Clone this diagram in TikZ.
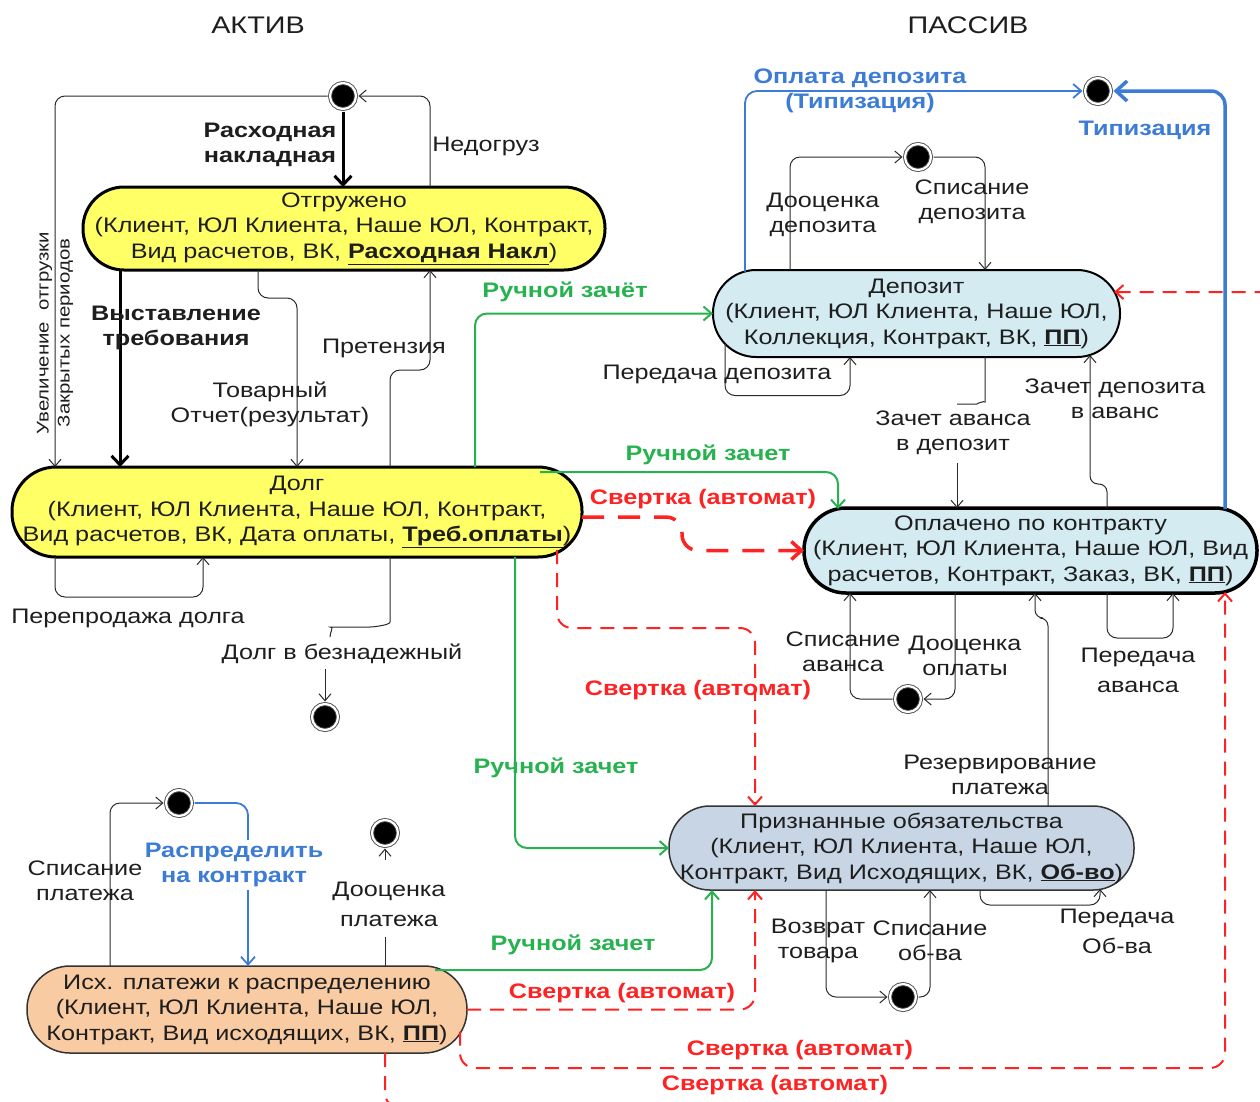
\documentclass[tikz,border=0pt]{standalone}
\usepackage{fontspec}
\setmainfont{Liberation Sans}[FakeStretch=1.2]
\usetikzlibrary{arrows.meta,calc}

\definecolor{txt}{HTML}{1E1E1E}
\definecolor{lnc}{HTML}{2A2A2A}
\definecolor{stYellow}{HTML}{FFFF66}
\definecolor{stBlue}{HTML}{D3EBF1}
\definecolor{stGrey}{HTML}{C7D5E5}
\definecolor{stPeach}{HTML}{F9CBA2}
\definecolor{grn}{HTML}{27B24F}
\definecolor{rdc}{HTML}{FF2222}
\definecolor{blc}{HTML}{3C7BD6}

\begin{document}
\begin{tikzpicture}[x=1pt,y=-1pt,
  every node/.style={inner sep=0pt, outer sep=0pt},
  st/.style={draw=black, line width=3pt, align=center, text=txt,
    font=\fontsize{21}{25.5}\selectfont},
  lab/.style={align=center, text=txt, font=\fontsize{21}{25}\selectfont},
  labw/.style={align=center, text=txt, font=\fontsize{21}{30}\selectfont},
  labb/.style={align=center, text=txt, font=\fontsize{21}{25}\selectfont\bfseries},
  glab/.style={text=grn, font=\fontsize{21}{25}\selectfont\bfseries},
  rlab/.style={text=rdc, font=\fontsize{21}{25}\selectfont\bfseries},
  blab/.style={align=center, text=blc, font=\fontsize{21}{25}\selectfont\bfseries},
  endpt/.style={circle, fill=black, draw=black!70, line width=0.9pt,
    double=white, double distance=2.2pt, minimum size=26pt, outer sep=2.5pt},
  ln/.style={draw=lnc, line width=1pt, rounded corners=10pt},
  thn/.style={ln, -{Straight Barb[length=7pt,width=12pt]}},
  thk/.style={draw=black, line width=3pt, -{Straight Barb[length=9pt,width=17pt]}},
  gr/.style={draw=grn, line width=2pt, rounded corners=12pt,
    -{Straight Barb[length=8pt,width=14pt]}},
  rd/.style={draw=rdc, line width=2pt, rounded corners=15pt,
    dash pattern=on 14pt off 9pt, -{Straight Barb[length=8pt,width=14pt]}},
  rdT/.style={draw=rdc, line width=3.5pt, rounded corners=16pt,
    dash pattern=on 22pt off 14pt, -{Straight Barb[length=10pt,width=18pt]}},
  bl/.style={draw=blc, line width=1.8pt, rounded corners=12pt,
    -{Straight Barb[length=8pt,width=14pt]}},
  blT/.style={draw=blc, line width=3.5pt, rounded corners=14pt,
    -{Straight Barb[length=11pt,width=20pt]}},
]
\useasboundingbox (0,0) rectangle (1260,1101);
\clip (0,0) rectangle (1260,1101);

% column headings
\node[lab, font=\fontsize{24}{28}\selectfont] (hA) at (258,25) {АКТИВ};
\node[lab, font=\fontsize{24}{28}\selectfont] (hP) at (968,25) {ПАССИВ};

% states
\node[st, fill=stYellow, minimum width=522pt, minimum height=83pt, rounded corners=41pt] (otg) at (344,228.5)
  {Отгружено\\(Клиент, ЮЛ Клиента, Наше ЮЛ, Контракт,\\Вид расчетов, ВК, \underline{\textbf{Расходная Накл}})};
\node[st, fill=stYellow, minimum width=570pt, minimum height=90pt, rounded corners=44pt] (dolg) at (297,512)
  {Долг\\(Клиент, ЮЛ Клиента, Наше ЮЛ, Контракт,\\Вид расчетов, ВК, Дата оплаты, \underline{\textbf{Треб.оплаты}})};
\node[st, line width=2pt, fill=stBlue, minimum width=407pt, minimum height=87pt, rounded corners=43pt] (dep) at (916.5,313.5)
  {Депозит\\(Клиент, ЮЛ Клиента, Наше ЮЛ,\\Коллекция, Контракт, ВК, \underline{\textbf{ПП}})};
\node[st, line width=3.5pt, fill=stBlue, minimum width=453pt, minimum height=85pt, rounded corners=42pt] (opl) at (1030.5,550.5)
  {Оплачено по контракту\\(Клиент, ЮЛ Клиента, Наше ЮЛ, Вид\\расчетов, Контракт, Заказ, ВК, \underline{\textbf{ПП}})};
\node[st, line width=1.5pt, draw=black!80, fill=stGrey, minimum width=465pt, minimum height=84pt, rounded corners=41pt] (priz) at (901.5,848)
  {Признанные обязательства\\(Клиент, ЮЛ Клиента, Наше ЮЛ,\\Контракт, Вид Исходящих, ВК, \underline{\textbf{Об-во}})};
\node[st, line width=1.5pt, draw=black!80, fill=stPeach, minimum width=440pt, minimum height=87pt, rounded corners=43pt] (ish) at (247,1009.5)
  {Исх. платежи к распределению\\(Клиент, ЮЛ Клиента, Наше ЮЛ,\\Контракт, Вид исходящих, ВК, \underline{\textbf{ПП}})};

% initial / final points
\node[endpt] (c1) at (343,96) {};
\node[endpt] (c2) at (1098,91) {};
\node[endpt] (c3) at (918,157) {};
\node[endpt] (c4) at (325,717) {};
\node[endpt] (c5) at (908,699) {};
\node[endpt] (c6) at (179,803) {};
\node[endpt] (c7) at (385,833) {};
\node[endpt] (c8) at (903,997) {};

% ---------- АКТИВ ----------
\draw[thk] (c1.south) -- (c1.south |- otg.north);
\draw[thn] ([xshift=86pt]otg.north) |- (c1.east);
\draw[thn] (c1.west) -| ([xshift=-242pt]dolg.north);
\draw[thk] ([xshift=-224pt]otg.south) -- ([xshift=-177pt]dolg.north);
\draw[thn] ([xshift=-86pt]otg.south) -- ++(0,28) -| (dolg.north);
\draw[thn] ([xshift=93pt]dolg.north) -- ++(0,-97) -| ([xshift=86pt]otg.south);
\draw[thn] ([xshift=-242pt]dolg.south) -- ++(0,40) -| ([xshift=-94pt]dolg.south);

\node[labb] (lrn) at (270,144.5) {Расходная\\накладная};
\node[lab] (lndg) at (486,146) {Недогруз};
\node[lab, rotate=90, font=\fontsize{17}{21}\selectfont] (luv) at (55,333) {Увеличение\ \ отгрузки\\Закрытых периодов};
\node[labb] (lvt) at (176,327.5) {Выставление\\требования};
\node[lab] (ltov) at (270,404.5) {Товарный\\Отчет(результат)};
\node[lab] (lpr) at (384,348) {Претензия};
\node[lab] (lpd) at (128,618) {Перепродажа долга};
\node[lab] (lbez) at (342,654) {Долг в безнадежный};

\draw[ln] ([xshift=93pt]dolg.south) -- ++(0,55) to[out=-90,in=0] ++(-30,15) -- ++(-20,0) to[out=180,in=90] ++(-10,10);
\draw[thn] ($(c4.north |- lbez.south)+(0,5)$) -- (c4.north);

% ---------- ПАССИВ ----------
\draw[bl] ([xshift=-171.5pt,yshift=-1.5pt]dep.north) |- (c2.west);
\draw[blT] ([xshift=194.5pt,yshift=-1pt]opl.north) |- (c2.east);
\node[blab] (lopd) at (860,90.5) {Оплата депозита\\(Типизация)};
\node[blab] (ltip) at (1145,130) {Типизация};

\draw[thn] ([xshift=-126.5pt]dep.north) |- (c3.west);
\draw[thn] (c3.east) -| ([xshift=68.5pt]dep.north);
\node[lab] (ldd) at (823,214.5) {Дооценка\\депозита};
\node[lab] (lsd) at (972,202) {Списание\\депозита};

\draw[thn] ([xshift=-191.5pt,yshift=13.5pt]dep.south) -- ++(0,52) -| ([xshift=-66.5pt]dep.south);
\node[lab] (lpdp) at (717,374) {Передача депозита};

\node[lab] (lzad) at (953,432.5) {Зачет аванса\\в депозит};
\draw[ln] ([xshift=68.5pt]dep.south) -- ++(0,35) to[out=-90,in=0] ++(-18,12) -- ++(-5,0);
\coordinate (zadA) at (957,463);
\draw[thn] (zadA) -- (zadA |- opl.north);

\draw[ln, rounded corners=8pt, -{Straight Barb[length=7pt,width=12pt]}]
  ([xshift=76.5pt]opl.north) -- ++(0,-24) -| ([xshift=173.5pt,yshift=2pt]dep.south);
\node[lab] (lzda) at (1115,398.5) {Зачет депозита\\в аванс};

\draw[thn] ([xshift=-75.5pt]opl.south) |- (c5.east);
\draw[thn] (c5.west) -| ([xshift=-180.5pt]opl.south);
\node[lab] (lsa) at (843,651.5) {Списание\\аванса};
\node[lab] (ldo) at (965,655.5) {Дооценка\\оплаты};

\draw[thn] ([xshift=76.5pt]opl.south) -- ++(0,45) -| ([xshift=142.5pt]opl.south);
\node[labw] (lpa) at (1138,670) {Передача\\аванса};

\draw[ln, rounded corners=8pt, -{Straight Barb[length=7pt,width=12pt]}]
  ([xshift=146.5pt]priz.north) -- ++(0,-188) -| ([xshift=4.5pt]opl.south);
\node[lab] (lrez) at (1000,774.5) {Резервирование\\платежа};

\draw[thn] ([xshift=-75.5pt]priz.south) |- (c8.west);
\draw[thn] (c8.east) -| ([xshift=28.5pt]priz.south);
\node[lab] (lvt2) at (818,940.5) {Возврат\\товара};
\node[lab] (lso) at (930,940.5) {Списание\\об-ва};

\draw[thn] ([xshift=78.5pt]priz.south) -- ++(0,15) -| ([xshift=198.5pt,yshift=1pt]priz.south);
\node[labw] (lpo) at (1117,931) {Передача\\Об-ва};

% ---------- manual offsets (green) ----------
\draw[gr] ([xshift=178pt]dolg.north) |- (dep.west);
\draw[gr] ([xshift=243pt,yshift=-5pt]dolg.north) -| ([xshift=-192.5pt,yshift=-1pt]opl.north);
\draw[gr] ([xshift=218pt]dolg.south) |- (priz.west);
\draw[gr] ([xshift=188pt,yshift=-4pt]ish.north) -| ([xshift=-189.5pt]priz.south);
\node[glab] (lg1) at (565,292) {Ручной зачёт};
\node[glab] (lg2) at (708,455) {Ручной зачет};
\node[glab] (lg3) at (556,768) {Ручной зачет};
\node[glab] (lg4) at (573,945) {Ручной зачет};

% ---------- automatic netting (red) ----------
\draw[rdT] ([yshift=-5pt]dolg.east) -- ++(100,0) |- (opl.west);
\draw[rd] ([xshift=260pt,yshift=7pt]dolg.south) -- ++(0,78) -| ([xshift=-146.5pt]priz.north);
\draw[rd] (ish.east) -| ([xshift=-146.5pt]priz.south);
\draw[rd] ([xshift=213pt,yshift=21.5pt]ish.south) -- ++(0,36.5) -| ([xshift=194.5pt,yshift=1pt]opl.south);
\draw[rd] ([xshift=138pt]ish.south) -- ++(0,55) -- (1275,1108) -- (1275,292) -- ([xshift=-6pt,yshift=21.5pt]dep.east);
\node[rlab] (lr1) at (703,499) {Свертка (автомат)};
\node[rlab] (lr2) at (698,690) {Свертка (автомат)};
\node[rlab] (lr3) at (622,993) {Свертка (автомат)};
\node[rlab] (lr4) at (800,1050) {Свертка (автомат)};
\node[rlab] (lr5) at (775,1085) {Свертка (автомат)};

% ---------- outgoing payments ----------
\draw[thn] ([xshift=-137pt]ish.north) |- (c6.west);
\node[lab] (lsp) at (85,880.5) {Списание\\платежа};
\draw[bl] (c6.east) -| ([xshift=1pt]ish.north);
\node[blab, fill=white, inner sep=3pt] (lrsp) at (234,865) {Распределить\\на контракт};
\draw[ln] ([xshift=138pt]ish.north) -- ++(0,-29);
\draw[thn] ([xshift=138pt]ish.north) ++(0,-106) -- (c7.south);
\node[labw] (ldp) at (389,904) {Дооценка\\платежа};
\end{tikzpicture}
\end{document}
